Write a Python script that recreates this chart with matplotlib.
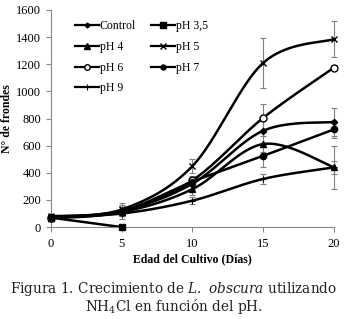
import numpy as np
import matplotlib
matplotlib.use("Agg")
import matplotlib.pyplot as plt
from matplotlib.lines import Line2D

days = [0, 5, 10, 15, 20]
series_names = ["Control", "pH 3,5", "pH 4", "pH 5", "pH 6", "pH 7", "pH 9"]
control = [75, 120, 320, 710, 775]
ph35 = [70, 0]
ph4 = [70, 110, 280, 612, 440]
ph5 = [80, 130, 450, 1210, 1385]
ph6 = [65, 115, 345, 805, 1175]
ph7 = [72, 118, 335, 525, 720]
ph9 = [75, 100, 195, 355, 440]

err_control = [15, 25, 40, 90, 105]
err_ph35 = [10, 0]
err_ph4 = [15, 25, 40, 60, 160]
err_ph5 = [15, 30, 55, 185, 130]
err_ph6 = [15, 30, 35, 105, 20]
err_ph7 = [15, 60, 30, 80, 60]
err_ph9 = [10, 20, 25, 35, 50]

plt.rcParams['mathtext.fontset'] = 'custom'
plt.rcParams['mathtext.rm'] = 'DejaVu Serif'
plt.rcParams['mathtext.it'] = 'DejaVu Serif:italic'

def smooth(xs, ys, n=40):
    xs = np.asarray(xs, float); ys = np.asarray(ys, float)
    P = np.column_stack([xs, ys])
    out = [P[0]]
    m = len(P)
    for i in range(m - 1):
        p0 = P[i - 1] if i > 0 else P[i]
        p1 = P[i]; p2 = P[i + 1]
        p3 = P[i + 2] if i + 2 < m else P[i + 1]
        c1 = p1 + (p2 - p0) / 6.0
        c2 = p2 - (p3 - p1) / 6.0
        t = np.linspace(0, 1, n)[1:, None]
        seg = (1 - t) ** 3 * p1 + 3 * (1 - t) ** 2 * t * c1 + 3 * (1 - t) * t ** 2 * c2 + t ** 3 * p2
        out.extend(seg)
    out = np.array(out)
    return out[:, 0], out[:, 1]

fig = plt.figure(figsize=(3.44, 3.19), dpi=100)
ax = fig.add_axes([0.148, 0.288, 0.823, 0.681])

data = [
    ("Control", days, control, err_control, dict(marker='D', ms=3.2, mfc='black')),
    ("pH 3,5", days[:2], ph35, err_ph35, dict(marker='s', ms=5, mfc='black')),
    ("pH 4", days, ph4, err_ph4, dict(marker='^', ms=5, mfc='black')),
    ("pH 5", days, ph5, err_ph5, dict(marker='x', ms=5, mew=1.0)),
    ("pH 6", days, ph6, err_ph6, dict(marker='o', ms=5, mfc='white', mew=1.0)),
    ("pH 7", days, ph7, err_ph7, dict(marker='o', ms=4.5, mfc='black')),
    ("pH 9", days, ph9, err_ph9, dict(marker='+', ms=5, mew=0.8)),
]

handles = {}
for name, xs, ys, es, mk in data:
    eb = ax.errorbar(xs, ys, yerr=es, fmt='none', ecolor='#808080', elinewidth=0.8, capsize=2.5,
                     capthick=0.8, zorder=2)
    for art in eb.lines[1] + eb.lines[2]:
        art.set_clip_on(False)
    sx, sy = smooth(xs, ys)
    ax.plot(sx, sy, color='black', lw=1.8, zorder=3, solid_capstyle='round')
    ax.plot(xs, ys, ls='none', color='black', mec='black', zorder=4, clip_on=False, **mk)
    hk = dict(mk)
    hk['ms'] = hk['ms'] * 0.8
    handles[name] = Line2D([0], [0], color='black', lw=1.6, mec='black', **hk)

ax.set_xlim(0, 20)
ax.set_ylim(0, 1600)
ax.set_xticks([0, 5, 10, 15, 20])
ax.set_yticks(range(0, 1601, 200))
for s in ['top', 'right']:
    ax.spines[s].set_visible(False)
for s in ['left', 'bottom']:
    ax.spines[s].set_color('#888888')
    ax.spines[s].set_linewidth(0.8)
ax.tick_params(axis='both', colors='#888888', labelcolor='black', length=3.5, width=0.8,
               labelsize=9)
for lab in ax.get_xticklabels() + ax.get_yticklabels():
    lab.set_family('Liberation Serif')
ax.tick_params(axis='x', pad=4)

ax.set_ylabel("N° de frondes", family='Liberation Serif', fontweight='bold', fontsize=8.5, labelpad=2)
ax.set_xlabel("Edad del Cultivo (Días)", family='Liberation Serif', fontweight='bold', fontsize=8.5, labelpad=3)

order = ["Control", "pH 4", "pH 6", "pH 9", "pH 3,5", "pH 5", "pH 7"]
leg = ax.legend([handles[k] for k in order], order, ncol=2, loc='upper left', bbox_to_anchor=(0.05, 1.0),
                frameon=False, prop={'family': 'Liberation Serif', 'size': 8.5},
                handlelength=2.0, handletextpad=0.1, columnspacing=1.3, labelspacing=0.75,
                borderaxespad=0.45)

fig.text(0.505, 0.093, r"Figura 1. Crecimiento de $\mathit{L.\ obscura}$ utilizando",
         ha='center', va='center', family='DejaVu Serif', fontsize=9.8, color='#222222')
fig.text(0.505, 0.04, r"NH$_4$Cl en función del pH.",
         ha='center', va='center', family='DejaVu Serif', fontsize=9.8, color='#222222')

fig.savefig("out.png", dpi=100)
